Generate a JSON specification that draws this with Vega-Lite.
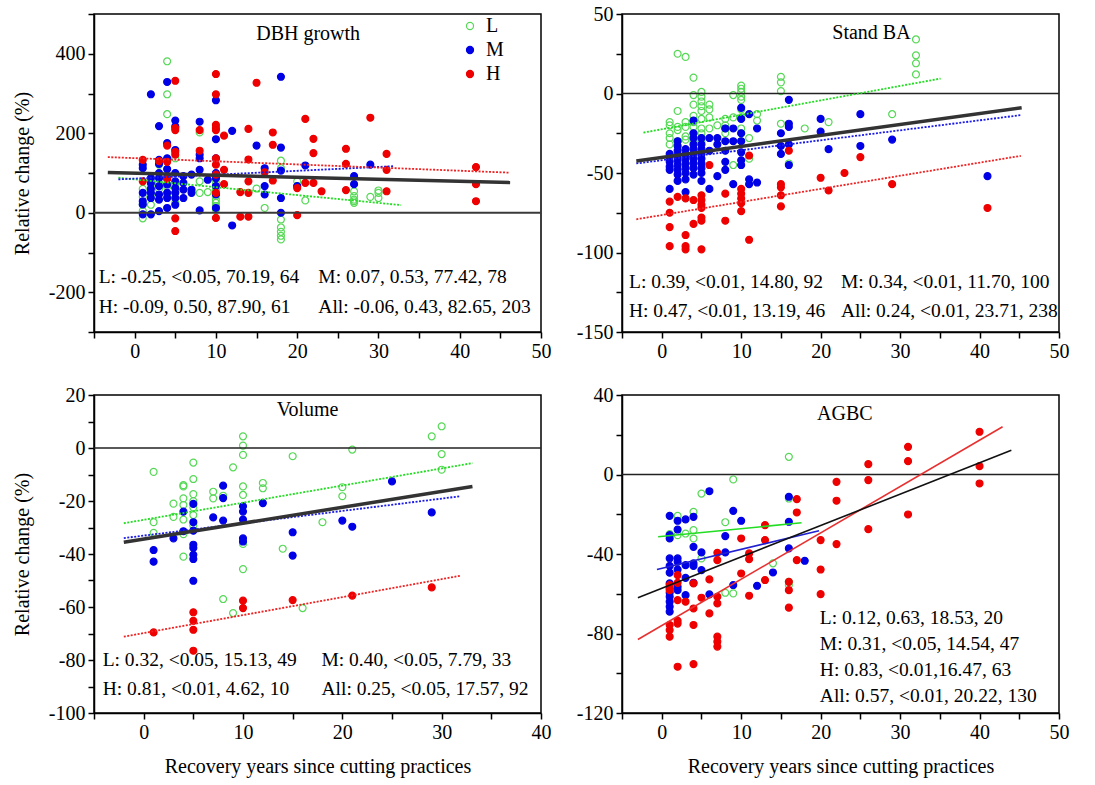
{
"$schema": "https://vega.github.io/schema/vega-lite/v6.json",
"background": "white",
"padding": {"left": 11, "top": 3, "right": 5, "bottom": 5},
"config": {
  "font": "Liberation Serif",
  "view": {"stroke": "black", "strokeWidth": 1.5},
  "axis": {"domainColor": "black", "domainWidth": 1.5, "tickColor": "black", "tickWidth": 1.5, "tickSize": 6, "labelFontSize": 20, "labelColor": "black", "labelFont": "Liberation Serif", "titleFont": "Liberation Serif", "titleFontSize": 20, "titleColor": "black", "titleFontWeight": "normal", "grid": false, "labelFlush": false, "labelOverlap": false, "labelPadding": 3},
  "axisY": {"titlePadding": 16},
  "axisX": {"titlePadding": 14},
  "text": {"font": "Liberation Serif", "color": "black"}
},
"datasets": {
"D": [
{"g":"L","x":1,"y":-14},{"g":"L","x":1,"y":5},{"g":"L","x":1,"y":20},{"g":"L","x":1,"y":40},{"g":"L","x":1,"y":60},
{"g":"L","x":2,"y":20},{"g":"L","x":2,"y":45},{"g":"L","x":2,"y":70},
{"g":"L","x":3,"y":60},{"g":"L","x":3,"y":75},{"g":"L","x":3,"y":121},
{"g":"L","x":4,"y":381},{"g":"L","x":4,"y":298},{"g":"L","x":4,"y":248},{"g":"L","x":4,"y":42},{"g":"L","x":4,"y":65},{"g":"L","x":4,"y":90},
{"g":"L","x":5,"y":137},{"g":"L","x":5,"y":25},{"g":"L","x":5,"y":50},{"g":"L","x":5,"y":70},
{"g":"L","x":8,"y":202},{"g":"L","x":8,"y":79},{"g":"L","x":8,"y":50},{"g":"L","x":9,"y":52},
{"g":"L","x":10,"y":8},{"g":"L","x":10,"y":17},{"g":"L","x":10,"y":25},{"g":"L","x":10,"y":33},{"g":"L","x":10,"y":42},{"g":"L","x":10,"y":50},{"g":"L","x":10,"y":58},{"g":"L","x":10,"y":67},{"g":"L","x":10,"y":75},{"g":"L","x":10,"y":85},{"g":"L","x":10,"y":96},
{"g":"L","x":15,"y":61},{"g":"L","x":16,"y":12},
{"g":"L","x":18,"y":131},{"g":"L","x":18,"y":112},{"g":"L","x":18,"y":-17},{"g":"L","x":18,"y":-37},{"g":"L","x":18,"y":-48},{"g":"L","x":18,"y":-58},{"g":"L","x":18,"y":-67},
{"g":"L","x":20,"y":79},{"g":"L","x":20,"y":67},{"g":"L","x":21,"y":31},
{"g":"L","x":27,"y":54},{"g":"L","x":27,"y":42},{"g":"L","x":27,"y":33},{"g":"L","x":27,"y":29},{"g":"L","x":27,"y":25},
{"g":"L","x":29,"y":40},{"g":"L","x":30,"y":56},{"g":"L","x":30,"y":50},{"g":"L","x":30,"y":37},
{"g":"M","x":1,"y":121},{"g":"M","x":1,"y":112},{"g":"M","x":1,"y":50},{"g":"M","x":1,"y":29},{"g":"M","x":1,"y":21},{"g":"M","x":1,"y":-4},
{"g":"M","x":2,"y":298},{"g":"M","x":2,"y":87},{"g":"M","x":2,"y":75},{"g":"M","x":2,"y":60},{"g":"M","x":2,"y":50},{"g":"M","x":2,"y":37},{"g":"M","x":2,"y":-4},
{"g":"M","x":3,"y":218},{"g":"M","x":3,"y":133},{"g":"M","x":3,"y":123},{"g":"M","x":3,"y":100},{"g":"M","x":3,"y":87},{"g":"M","x":3,"y":67},{"g":"M","x":3,"y":46},{"g":"M","x":3,"y":33},{"g":"M","x":3,"y":4},
{"g":"M","x":4,"y":329},{"g":"M","x":4,"y":175},{"g":"M","x":4,"y":137},{"g":"M","x":4,"y":110},{"g":"M","x":4,"y":87},{"g":"M","x":4,"y":71},{"g":"M","x":4,"y":50},{"g":"M","x":4,"y":37},{"g":"M","x":4,"y":12},
{"g":"M","x":5,"y":232},{"g":"M","x":5,"y":217},{"g":"M","x":5,"y":158},{"g":"M","x":5,"y":100},{"g":"M","x":5,"y":79},{"g":"M","x":5,"y":62},{"g":"M","x":5,"y":50},{"g":"M","x":5,"y":37},{"g":"M","x":5,"y":20},
{"g":"M","x":6,"y":92},{"g":"M","x":6,"y":75},{"g":"M","x":6,"y":58},{"g":"M","x":6,"y":37},
{"g":"M","x":7,"y":96},{"g":"M","x":7,"y":58},{"g":"M","x":7,"y":50},
{"g":"M","x":8,"y":229},{"g":"M","x":8,"y":146},{"g":"M","x":8,"y":137},{"g":"M","x":8,"y":108},{"g":"M","x":8,"y":6},
{"g":"M","x":9,"y":83},
{"g":"M","x":10,"y":283},{"g":"M","x":10,"y":185},{"g":"M","x":10,"y":137},{"g":"M","x":10,"y":100},{"g":"M","x":10,"y":87},{"g":"M","x":10,"y":67},{"g":"M","x":10,"y":46},{"g":"M","x":10,"y":12},
{"g":"M","x":12,"y":206},{"g":"M","x":12,"y":-32},{"g":"M","x":15,"y":169},
{"g":"M","x":16,"y":112},{"g":"M","x":16,"y":67},{"g":"M","x":16,"y":46},
{"g":"M","x":18,"y":342},{"g":"M","x":18,"y":164},{"g":"M","x":18,"y":106},{"g":"M","x":18,"y":37},{"g":"M","x":18,"y":0},
{"g":"M","x":20,"y":67},{"g":"M","x":21,"y":119},{"g":"M","x":27,"y":92},{"g":"M","x":27,"y":72},{"g":"M","x":29,"y":121},
{"g":"H","x":1,"y":133},{"g":"H","x":1,"y":79},{"g":"H","x":3,"y":130},
{"g":"H","x":4,"y":169},{"g":"H","x":4,"y":128},{"g":"H","x":4,"y":85},
{"g":"H","x":5,"y":332},{"g":"H","x":5,"y":213},{"g":"H","x":5,"y":208},{"g":"H","x":5,"y":153},{"g":"H","x":5,"y":146},{"g":"H","x":5,"y":-14},{"g":"H","x":5,"y":-46},
{"g":"H","x":8,"y":208},{"g":"H","x":8,"y":156},
{"g":"H","x":10,"y":349},{"g":"H","x":10,"y":298},{"g":"H","x":10,"y":221},{"g":"H","x":10,"y":213},{"g":"H","x":10,"y":208},{"g":"H","x":10,"y":137},{"g":"H","x":10,"y":121},{"g":"H","x":10,"y":96},{"g":"H","x":10,"y":50},{"g":"H","x":10,"y":-13},
{"g":"H","x":11,"y":194},{"g":"H","x":11,"y":108},{"g":"H","x":11,"y":72},
{"g":"H","x":13,"y":52},{"g":"H","x":13,"y":-10},
{"g":"H","x":14,"y":211},{"g":"H","x":14,"y":134},{"g":"H","x":14,"y":79},{"g":"H","x":14,"y":50},{"g":"H","x":14,"y":-10},
{"g":"H","x":15,"y":327},{"g":"H","x":16,"y":102},
{"g":"H","x":17,"y":202},{"g":"H","x":17,"y":171},{"g":"H","x":17,"y":81},
{"g":"H","x":20,"y":62},{"g":"H","x":20,"y":-6},
{"g":"H","x":21,"y":236},{"g":"H","x":21,"y":75},
{"g":"H","x":22,"y":186},{"g":"H","x":22,"y":150},{"g":"H","x":22,"y":75},
{"g":"H","x":23,"y":54},
{"g":"H","x":26,"y":161},{"g":"H","x":26,"y":123},{"g":"H","x":26,"y":57},
{"g":"H","x":29,"y":239},
{"g":"H","x":31,"y":148},{"g":"H","x":31,"y":108},{"g":"H","x":31,"y":54},
{"g":"H","x":42,"y":115},{"g":"H","x":42,"y":72},{"g":"H","x":42,"y":29}
],
"B": [
{"g":"L","x":1,"y":-18},{"g":"L","x":1,"y":-25},{"g":"L","x":1,"y":-28},{"g":"L","x":1,"y":-32},{"g":"L","x":1,"y":-20},
{"g":"L","x":2,"y":25},{"g":"L","x":2,"y":-11},{"g":"L","x":2,"y":-21},{"g":"L","x":2,"y":-23},{"g":"L","x":2,"y":-30},
{"g":"L","x":3,"y":23},{"g":"L","x":3,"y":-18},{"g":"L","x":3,"y":-21},{"g":"L","x":3,"y":-27},{"g":"L","x":3,"y":-29},
{"g":"L","x":4,"y":10},{"g":"L","x":4,"y":-1},{"g":"L","x":4,"y":-7},{"g":"L","x":4,"y":-14},{"g":"L","x":4,"y":-18},{"g":"L","x":4,"y":-21},{"g":"L","x":4,"y":-25},{"g":"L","x":4,"y":-30},
{"g":"L","x":5,"y":1},{"g":"L","x":5,"y":-2},{"g":"L","x":5,"y":-5},{"g":"L","x":5,"y":-8},{"g":"L","x":5,"y":-11},{"g":"L","x":5,"y":-16},{"g":"L","x":5,"y":-22},{"g":"L","x":5,"y":-25},{"g":"L","x":5,"y":-28},{"g":"L","x":5,"y":-30},
{"g":"L","x":6,"y":-7},{"g":"L","x":6,"y":-10},{"g":"L","x":6,"y":-15},{"g":"L","x":6,"y":-22},
{"g":"L","x":7,"y":-20},
{"g":"L","x":8,"y":-16},{"g":"L","x":8,"y":-20},{"g":"L","x":8,"y":-22},{"g":"L","x":8,"y":-25},
{"g":"L","x":9,"y":-1},{"g":"L","x":9,"y":-15},{"g":"L","x":9,"y":-45},
{"g":"L","x":10,"y":5},{"g":"L","x":10,"y":3},{"g":"L","x":10,"y":1},{"g":"L","x":10,"y":-2},{"g":"L","x":10,"y":-4},{"g":"L","x":10,"y":-10},{"g":"L","x":10,"y":-15},{"g":"L","x":10,"y":-22},{"g":"L","x":10,"y":-25},{"g":"L","x":10,"y":-30},
{"g":"L","x":11,"y":-28},{"g":"L","x":11,"y":-41},
{"g":"L","x":12,"y":-13},{"g":"L","x":12,"y":-17},
{"g":"L","x":15,"y":10.5},{"g":"L","x":15,"y":7},{"g":"L","x":15,"y":1.5},{"g":"L","x":15,"y":-19},
{"g":"L","x":16,"y":-44},{"g":"L","x":18,"y":-22},{"g":"L","x":21,"y":-18},{"g":"L","x":29,"y":-13},
{"g":"L","x":32,"y":34},{"g":"L","x":32,"y":24},{"g":"L","x":32,"y":19},{"g":"L","x":32,"y":12},
{"g":"M","x":1,"y":-38},{"g":"M","x":1,"y":-40},{"g":"M","x":1,"y":-43},{"g":"M","x":1,"y":-46},{"g":"M","x":1,"y":-48},{"g":"M","x":1,"y":-60},
{"g":"M","x":2,"y":-30},{"g":"M","x":2,"y":-33},{"g":"M","x":2,"y":-36},{"g":"M","x":2,"y":-39},{"g":"M","x":2,"y":-42},{"g":"M","x":2,"y":-45},{"g":"M","x":2,"y":-48},{"g":"M","x":2,"y":-51},{"g":"M","x":2,"y":-55},
{"g":"M","x":3,"y":-35},{"g":"M","x":3,"y":-38},{"g":"M","x":3,"y":-41},{"g":"M","x":3,"y":-44},{"g":"M","x":3,"y":-47},{"g":"M","x":3,"y":-50},{"g":"M","x":3,"y":-54},{"g":"M","x":3,"y":-62},
{"g":"M","x":4,"y":-17},{"g":"M","x":4,"y":-25},{"g":"M","x":4,"y":-28},{"g":"M","x":4,"y":-32},{"g":"M","x":4,"y":-35},{"g":"M","x":4,"y":-38},{"g":"M","x":4,"y":-41},{"g":"M","x":4,"y":-44},{"g":"M","x":4,"y":-47},{"g":"M","x":4,"y":-51},
{"g":"M","x":5,"y":-28},{"g":"M","x":5,"y":-32},{"g":"M","x":5,"y":-35},{"g":"M","x":5,"y":-38},{"g":"M","x":5,"y":-41},{"g":"M","x":5,"y":-44},{"g":"M","x":5,"y":-47},{"g":"M","x":5,"y":-50},{"g":"M","x":5,"y":-55},
{"g":"M","x":6,"y":-28},{"g":"M","x":6,"y":-36},{"g":"M","x":6,"y":-60},
{"g":"M","x":7,"y":-28},{"g":"M","x":7,"y":-32},{"g":"M","x":7,"y":-52},
{"g":"M","x":8,"y":-22},{"g":"M","x":8,"y":-30},{"g":"M","x":8,"y":-36},{"g":"M","x":8,"y":-43},{"g":"M","x":8,"y":-48},
{"g":"M","x":9,"y":-22},{"g":"M","x":9,"y":-30},{"g":"M","x":9,"y":-57},
{"g":"M","x":10,"y":-9},{"g":"M","x":10,"y":-16},{"g":"M","x":10,"y":-25},{"g":"M","x":10,"y":-30},{"g":"M","x":10,"y":-37},{"g":"M","x":10,"y":-42},{"g":"M","x":10,"y":-45},
{"g":"M","x":11,"y":-13},{"g":"M","x":11,"y":-54},{"g":"M","x":11,"y":-57},
{"g":"M","x":12,"y":-22},{"g":"M","x":12,"y":-56},
{"g":"M","x":15,"y":-25},{"g":"M","x":15,"y":-33},{"g":"M","x":15,"y":-38},
{"g":"M","x":16,"y":-4},{"g":"M","x":16,"y":-19},{"g":"M","x":16,"y":-21},{"g":"M","x":16,"y":-32},{"g":"M","x":16,"y":-45},
{"g":"M","x":20,"y":-16},{"g":"M","x":20,"y":-24},{"g":"M","x":21,"y":-35},
{"g":"M","x":25,"y":-13},{"g":"M","x":25,"y":-33},{"g":"M","x":29,"y":-29},{"g":"M","x":41,"y":-52},
{"g":"H","x":1,"y":-68},{"g":"H","x":1,"y":-75},{"g":"H","x":1,"y":-84},{"g":"H","x":1,"y":-96},
{"g":"H","x":2,"y":-65},
{"g":"H","x":3,"y":-66},{"g":"H","x":3,"y":-89},{"g":"H","x":3,"y":-96},{"g":"H","x":3,"y":-98},
{"g":"H","x":4,"y":-67},{"g":"H","x":4,"y":-82},
{"g":"H","x":5,"y":-64},{"g":"H","x":5,"y":-67},{"g":"H","x":5,"y":-70},{"g":"H","x":5,"y":-72},{"g":"H","x":5,"y":-78},{"g":"H","x":5,"y":-80},{"g":"H","x":5,"y":-98},
{"g":"H","x":6,"y":-45},
{"g":"H","x":8,"y":-63},{"g":"H","x":8,"y":-80},
{"g":"H","x":10,"y":-60},{"g":"H","x":10,"y":-63},{"g":"H","x":10,"y":-66},{"g":"H","x":10,"y":-69},{"g":"H","x":10,"y":-74},
{"g":"H","x":11,"y":-39},{"g":"H","x":11,"y":-92},
{"g":"H","x":15,"y":-57},{"g":"H","x":15,"y":-59},{"g":"H","x":15,"y":-64},{"g":"H","x":15,"y":-71},
{"g":"H","x":16,"y":-36},{"g":"H","x":20,"y":-53},{"g":"H","x":21,"y":-61},{"g":"H","x":23,"y":-50},{"g":"H","x":25,"y":-40},{"g":"H","x":29,"y":-57},{"g":"H","x":41,"y":-72}
],
"V": [
{"g":"L","x":1,"y":-9},{"g":"L","x":1,"y":-28},{"g":"L","x":1,"y":-32},
{"g":"L","x":3,"y":-21},{"g":"L","x":3,"y":-26},
{"g":"L","x":4,"y":-14},{"g":"L","x":4,"y":-14.5},{"g":"L","x":4,"y":-19},{"g":"L","x":4,"y":-21.5},{"g":"L","x":4,"y":-27},{"g":"L","x":4,"y":-32.5},{"g":"L","x":4,"y":-41},
{"g":"L","x":5,"y":-5.5},{"g":"L","x":5,"y":-11.7},{"g":"L","x":5,"y":-17.4},{"g":"L","x":5,"y":-20},{"g":"L","x":5,"y":-22.4},{"g":"L","x":5,"y":-25.3},{"g":"L","x":5,"y":-29.3},
{"g":"L","x":7,"y":-16.5},{"g":"L","x":7,"y":-19},
{"g":"L","x":8,"y":-18},{"g":"L","x":8,"y":-57},
{"g":"L","x":9,"y":-7.3},{"g":"L","x":9,"y":-62.3},
{"g":"L","x":10,"y":4.4},{"g":"L","x":10,"y":0.9},{"g":"L","x":10,"y":-2.6},{"g":"L","x":10,"y":-14.5},{"g":"L","x":10,"y":-17.7},{"g":"L","x":10,"y":-36.2},{"g":"L","x":10,"y":-45.7},
{"g":"L","x":12,"y":-13.2},{"g":"L","x":12,"y":-15.2},
{"g":"L","x":14,"y":-38},{"g":"L","x":15,"y":-3.1},{"g":"L","x":16,"y":-60.4},{"g":"L","x":18,"y":-28},
{"g":"L","x":20,"y":-14.8},{"g":"L","x":20,"y":-18.2},{"g":"L","x":21,"y":-0.6},
{"g":"L","x":29,"y":4.4},{"g":"L","x":30,"y":8.2},{"g":"L","x":30,"y":-2.3},{"g":"L","x":30,"y":-8.2},
{"g":"M","x":1,"y":-38.5},{"g":"M","x":1,"y":-42.9},{"g":"M","x":3,"y":-34.1},
{"g":"M","x":4,"y":-24},{"g":"M","x":4,"y":-31.4},
{"g":"M","x":5,"y":-21.1},{"g":"M","x":5,"y":-28},{"g":"M","x":5,"y":-31.2},{"g":"M","x":5,"y":-36.5},{"g":"M","x":5,"y":-37.7},{"g":"M","x":5,"y":-40.3},{"g":"M","x":5,"y":-41.9},{"g":"M","x":5,"y":-50.1},
{"g":"M","x":7,"y":-26.2},
{"g":"M","x":8,"y":-14.2},{"g":"M","x":8,"y":-18.9},{"g":"M","x":8,"y":-27.4},
{"g":"M","x":10,"y":-22},{"g":"M","x":10,"y":-24},{"g":"M","x":10,"y":-27},{"g":"M","x":10,"y":-34.1},{"g":"M","x":10,"y":-35.3},
{"g":"M","x":12,"y":-20.8},{"g":"M","x":15,"y":-31.8},{"g":"M","x":15,"y":-40.6},
{"g":"M","x":20,"y":-27.4},{"g":"M","x":21,"y":-29.7},{"g":"M","x":25,"y":-12.6},{"g":"M","x":29,"y":-24.3},
{"g":"H","x":1,"y":-69.6},
{"g":"H","x":5,"y":-62},{"g":"H","x":5,"y":-65.2},{"g":"H","x":5,"y":-68.6},{"g":"H","x":5,"y":-76.5},
{"g":"H","x":10,"y":-57.6},{"g":"H","x":10,"y":-60.4},
{"g":"H","x":15,"y":-57.4},{"g":"H","x":21,"y":-55.7},{"g":"H","x":29,"y":-52.6}
],
"A": [
{"g":"L","x":1,"y":-30},
{"g":"L","x":2,"y":-20.8},{"g":"L","x":2,"y":-30.5},{"g":"L","x":3,"y":-29.7},
{"g":"L","x":4,"y":-18.8},{"g":"L","x":4,"y":-28},{"g":"L","x":4,"y":-32.2},
{"g":"L","x":5,"y":-9.6},{"g":"L","x":5,"y":-42.2},
{"g":"L","x":8,"y":-24},{"g":"L","x":8,"y":-59.5},
{"g":"L","x":9,"y":-2.5},{"g":"L","x":9,"y":-59.8},
{"g":"L","x":14,"y":-44.7},
{"g":"L","x":16,"y":8.9},{"g":"L","x":16,"y":-12.1},{"g":"L","x":16,"y":-54},{"g":"L","x":16,"y":-55.6},
{"g":"M","x":1,"y":-20.8},{"g":"M","x":1,"y":-30.5},{"g":"M","x":1,"y":-32.2},{"g":"M","x":1,"y":-42.2},{"g":"M","x":1,"y":-46},{"g":"M","x":1,"y":-49.4},{"g":"M","x":1,"y":-54.8},{"g":"M","x":1,"y":-57.3},{"g":"M","x":1,"y":-59.5},{"g":"M","x":1,"y":-61.5},{"g":"M","x":1,"y":-64},{"g":"M","x":1,"y":-66.5},{"g":"M","x":1,"y":-69},
{"g":"M","x":2,"y":-23.3},{"g":"M","x":2,"y":-27.7},{"g":"M","x":2,"y":-42.2},{"g":"M","x":2,"y":-43.9},{"g":"M","x":2,"y":-47.8},{"g":"M","x":2,"y":-56.5},{"g":"M","x":2,"y":-58.2},
{"g":"M","x":3,"y":-22.6},{"g":"M","x":3,"y":-45.6},{"g":"M","x":3,"y":-52},{"g":"M","x":3,"y":-60.7},
{"g":"M","x":4,"y":-21.3},{"g":"M","x":4,"y":-36.4},{"g":"M","x":4,"y":-44.7},{"g":"M","x":4,"y":-46},{"g":"M","x":4,"y":-54.5},
{"g":"M","x":5,"y":-39.2},{"g":"M","x":5,"y":-48.1},
{"g":"M","x":6,"y":-8.4},{"g":"M","x":6,"y":-60.3},
{"g":"M","x":8,"y":-31},{"g":"M","x":8,"y":-39.2},
{"g":"M","x":9,"y":-18.3},{"g":"M","x":9,"y":-55.6},
{"g":"M","x":10,"y":-23.3},{"g":"M","x":12,"y":-56},{"g":"M","x":14,"y":-49.3},
{"g":"M","x":16,"y":-11.2},{"g":"M","x":16,"y":-23.8},{"g":"M","x":16,"y":-37.2},
{"g":"M","x":18,"y":-43.4},
{"g":"H","x":1,"y":-55.6},{"g":"H","x":1,"y":-58.2},{"g":"H","x":1,"y":-75.7},{"g":"H","x":1,"y":-78.3},{"g":"H","x":1,"y":-81.6},
{"g":"H","x":2,"y":-50.6},{"g":"H","x":2,"y":-54.5},{"g":"H","x":2,"y":-63.2},{"g":"H","x":2,"y":-73.6},{"g":"H","x":2,"y":-75},{"g":"H","x":2,"y":-96.7},
{"g":"H","x":3,"y":-64},
{"g":"H","x":4,"y":-54.8},{"g":"H","x":4,"y":-67.4},{"g":"H","x":4,"y":-75.7},{"g":"H","x":4,"y":-95.4},
{"g":"H","x":5,"y":-62},
{"g":"H","x":6,"y":-52.8},{"g":"H","x":6,"y":-69.9},
{"g":"H","x":7,"y":-39.4},{"g":"H","x":7,"y":-43.1},{"g":"H","x":7,"y":-61.5},{"g":"H","x":7,"y":-64.9},{"g":"H","x":7,"y":-81.6},{"g":"H","x":7,"y":-84.1},{"g":"H","x":7,"y":-86.6},
{"g":"H","x":10,"y":-32.2},{"g":"H","x":10,"y":-49.8},
{"g":"H","x":11,"y":-39.7},{"g":"H","x":11,"y":-42.6},{"g":"H","x":11,"y":-61},
{"g":"H","x":13,"y":-25.5},{"g":"H","x":13,"y":-33},{"g":"H","x":13,"y":-53.1},
{"g":"H","x":16,"y":-54},{"g":"H","x":16,"y":-58.2},{"g":"H","x":16,"y":-67},
{"g":"H","x":17,"y":-12.4},{"g":"H","x":17,"y":-19.1},{"g":"H","x":17,"y":-43.1},
{"g":"H","x":20,"y":-33},{"g":"H","x":20,"y":-47.8},{"g":"H","x":20,"y":-60.2},
{"g":"H","x":22,"y":-3.7},{"g":"H","x":22,"y":-13.2},{"g":"H","x":22,"y":-35},
{"g":"H","x":26,"y":5.2},{"g":"H","x":26,"y":-2.8},{"g":"H","x":26,"y":-27.5},
{"g":"H","x":31,"y":13.9},{"g":"H","x":31,"y":6.7},{"g":"H","x":31,"y":-20.1},
{"g":"H","x":40,"y":21.5},{"g":"H","x":40,"y":4.2},{"g":"H","x":40,"y":-4.5}
],
"lines": [
{"p":"D","g":"L","x":-2,"y":88},{"p":"D","g":"L","x":32.8,"y":19.2},
{"p":"D","g":"M","x":-2,"y":84},{"p":"D","g":"M","x":31.8,"y":117},
{"p":"D","g":"H","x":-3.3,"y":140},{"p":"D","g":"H","x":46,"y":101},
{"p":"D","g":"All","x":-3.3,"y":101},{"p":"D","g":"All","x":46.2,"y":76},
{"p":"B","g":"L","x":-2.3,"y":-24.6},{"p":"B","g":"L","x":35.1,"y":9.4},
{"p":"B","g":"M","x":-3.2,"y":-44},{"p":"B","g":"M","x":45.2,"y":-13.6},
{"p":"B","g":"H","x":-3.2,"y":-79.1},{"p":"B","g":"H","x":45.2,"y":-39.2},
{"p":"B","g":"All","x":-3.2,"y":-42.4},{"p":"B","g":"All","x":45.3,"y":-9},
{"p":"V","g":"L","x":-2,"y":-28.4},{"p":"V","g":"L","x":33.1,"y":-5.7},
{"p":"V","g":"M","x":-2,"y":-34},{"p":"V","g":"M","x":31.9,"y":-18.2},
{"p":"V","g":"H","x":-2,"y":-71.2},{"p":"V","g":"H","x":31.9,"y":-48.2},
{"p":"V","g":"All","x":-2,"y":-35.6},{"p":"V","g":"All","x":33.1,"y":-14.5},
{"p":"A","g":"L","x":-0.45,"y":-31.3},{"p":"A","g":"L","x":17.6,"y":-24.3},
{"p":"A","g":"M","x":-0.6,"y":-47.8},{"p":"A","g":"M","x":19.8,"y":-28.3},
{"p":"A","g":"H","x":-3,"y":-83},{"p":"A","g":"H","x":42.9,"y":24},
{"p":"A","g":"All","x":-3,"y":-62},{"p":"A","g":"All","x":44,"y":12.2}
]
},
"columns": 2,
"spacing": {"row": 63, "column": 81},
"bounds": "flush",
"resolve": {"scale": {"x": "independent", "y": "independent", "fill": "independent", "stroke": "independent", "color": "independent"}, "legend": {"fill": "independent", "stroke": "independent", "color": "independent"}},
"concat": [
{
 "width": 447, "height": 318,
 "layer": [
  {"data": {"name": "D"}, "mark": {"type": "circle", "size": 48, "opacity": 1, "strokeWidth": 1.2},
   "encoding": {
    "x": {"field": "x", "type": "quantitative", "scale": {"domain": [-5, 50], "nice": false, "zero": false}, "axis": {"values": [-5,0,5,10,15,20,25,30,35,40,45,50], "labelExpr": "datum.value % 10 === 0 ? '' + datum.value : ''", "title": null}},
    "y": {"field": "y", "type": "quantitative", "scale": {"domain": [-300, 500], "nice": false, "zero": false}, "axis": {"values": [-300,-200,-100,0,100,200,300,400,500], "labelExpr": "datum.value % 200 === 0 ? '' + datum.value : ''", "title": "Relative change (%)"}},
    "fill": {"field": "g", "type": "nominal", "scale": {"domain": ["L","M","H"], "range": ["transparent","#0000e6","#ee0000"]}, "legend": {"title": null, "orient": "none", "legendX": 366, "legendY": 2, "labelFontSize": 20, "labelFont": "Liberation Serif", "labelColor": "black", "symbolSize": 50, "symbolStrokeWidth": 1.2, "rowPadding": 4, "labelOffset": 6, "symbolType": "circle", "padding": 0}},
    "stroke": {"field": "g", "type": "nominal", "scale": {"domain": ["L","M","H"], "range": ["#55d855","#0000e6","#ee0000"]}, "legend": {"title": null, "orient": "none", "legendX": 366, "legendY": 2, "labelFontSize": 20, "labelFont": "Liberation Serif", "labelColor": "black", "symbolSize": 50, "symbolStrokeWidth": 1.2, "rowPadding": 4, "labelOffset": 6, "symbolType": "circle", "padding": 0}}
   }},
  {"data": {"values": [{}]}, "mark": {"type": "rule", "color": "#3a3a3a", "strokeWidth": 2}, "encoding": {"y": {"datum": 0, "type": "quantitative", "axis": {"values": [-300,-200,-100,0,100,200,300,400,500], "labelExpr": "datum.value % 200 === 0 ? '' + datum.value : ''", "title": "Relative change (%)"}}}},
  {"data": {"name": "lines"}, "transform": [{"filter": "datum.p === 'D' && datum.g !== 'All'"}], "mark": {"type": "line", "strokeDash": [2, 1.5], "strokeWidth": 1.8},
   "encoding": {"x": {"field": "x", "type": "quantitative", "axis": {"values": [-5,0,5,10,15,20,25,30,35,40,45,50], "labelExpr": "datum.value % 10 === 0 ? '' + datum.value : ''", "title": null}}, "y": {"field": "y", "type": "quantitative", "axis": {"values": [-300,-200,-100,0,100,200,300,400,500], "labelExpr": "datum.value % 200 === 0 ? '' + datum.value : ''", "title": "Relative change (%)"}}, "color": {"field": "g", "type": "nominal", "scale": {"domain": ["L","M","H"], "range": ["#22dd22","#1a1ae6","#ee2222"]}, "legend": null}}},
  {"data": {"name": "lines"}, "transform": [{"filter": "datum.p === 'D' && datum.g === 'All'"}], "mark": {"type": "line", "color": "#333333", "strokeWidth": 3.5},
   "encoding": {"x": {"field": "x", "type": "quantitative", "axis": {"values": [-5,0,5,10,15,20,25,30,35,40,45,50], "labelExpr": "datum.value % 10 === 0 ? '' + datum.value : ''", "title": null}}, "y": {"field": "y", "type": "quantitative", "axis": {"values": [-300,-200,-100,0,100,200,300,400,500], "labelExpr": "datum.value % 200 === 0 ? '' + datum.value : ''", "title": "Relative change (%)"}}}},
  {"data": {"values": [{}]}, "mark": {"type": "text", "text": "DBH growth", "fontSize": 20, "align": "center", "baseline": "alphabetic"}, "encoding": {"x": {"datum": 21.35, "type": "quantitative", "axis": {"values": [-5,0,5,10,15,20,25,30,35,40,45,50], "labelExpr": "datum.value % 10 === 0 ? '' + datum.value : ''", "title": null}}, "y": {"datum": 434, "type": "quantitative", "axis": {"values": [-300,-200,-100,0,100,200,300,400,500], "labelExpr": "datum.value % 200 === 0 ? '' + datum.value : ''", "title": "Relative change (%)"}}}},
  {"data": {"values": [{}]}, "mark": {"type": "text", "text": ["L: -0.25, <0.05, 70.19, 64", "H: -0.09, 0.50, 87.90, 61"], "lineHeight": 30, "fontSize": 19.5, "align": "left", "baseline": "top"}, "encoding": {"x": {"datum": -4.43, "type": "quantitative", "axis": {"values": [-5,0,5,10,15,20,25,30,35,40,45,50], "labelExpr": "datum.value % 10 === 0 ? '' + datum.value : ''", "title": null}}, "y": {"datum": -140, "type": "quantitative", "axis": {"values": [-300,-200,-100,0,100,200,300,400,500], "labelExpr": "datum.value % 200 === 0 ? '' + datum.value : ''", "title": "Relative change (%)"}}}},
  {"data": {"values": [{}]}, "mark": {"type": "text", "text": ["M: 0.07, 0.53, 77.42, 78", "All: -0.06, 0.43, 82.65, 203"], "lineHeight": 30, "fontSize": 19.5, "align": "left", "baseline": "top"}, "encoding": {"x": {"datum": 22.6, "type": "quantitative", "axis": {"values": [-5,0,5,10,15,20,25,30,35,40,45,50], "labelExpr": "datum.value % 10 === 0 ? '' + datum.value : ''", "title": null}}, "y": {"datum": -140, "type": "quantitative", "axis": {"values": [-300,-200,-100,0,100,200,300,400,500], "labelExpr": "datum.value % 200 === 0 ? '' + datum.value : ''", "title": "Relative change (%)"}}}}
 ]
},
{
 "width": 437, "height": 318,
 "layer": [
  {"data": {"name": "B"}, "mark": {"type": "circle", "size": 48, "opacity": 1, "strokeWidth": 1.2},
   "encoding": {
    "x": {"field": "x", "type": "quantitative", "scale": {"domain": [-5, 50], "nice": false, "zero": false}, "axis": {"values": [-5,0,5,10,15,20,25,30,35,40,45,50], "labelExpr": "datum.value % 10 === 0 ? '' + datum.value : ''", "title": null}},
    "y": {"field": "y", "type": "quantitative", "scale": {"domain": [-150, 50], "nice": false, "zero": false}, "axis": {"values": [-150,-125,-100,-75,-50,-25,0,25,50], "labelExpr": "datum.value % 50 === 0 ? '' + datum.value : ''", "title": null}},
    "fill": {"field": "g", "type": "nominal", "scale": {"domain": ["L","M","H"], "range": ["transparent","#0000e6","#ee0000"]}, "legend": null},
    "stroke": {"field": "g", "type": "nominal", "scale": {"domain": ["L","M","H"], "range": ["#55d855","#0000e6","#ee0000"]}, "legend": null}
   }},
  {"data": {"values": [{}]}, "mark": {"type": "rule", "color": "#222222", "strokeWidth": 1.3}, "encoding": {"y": {"datum": 0, "type": "quantitative", "axis": {"values": [-150,-125,-100,-75,-50,-25,0,25,50], "labelExpr": "datum.value % 50 === 0 ? '' + datum.value : ''", "title": null}}}},
  {"data": {"name": "lines"}, "transform": [{"filter": "datum.p === 'B' && datum.g !== 'All'"}], "mark": {"type": "line", "strokeDash": [2, 1.5], "strokeWidth": 1.8},
   "encoding": {"x": {"field": "x", "type": "quantitative", "axis": {"values": [-5,0,5,10,15,20,25,30,35,40,45,50], "labelExpr": "datum.value % 10 === 0 ? '' + datum.value : ''", "title": null}}, "y": {"field": "y", "type": "quantitative", "axis": {"values": [-150,-125,-100,-75,-50,-25,0,25,50], "labelExpr": "datum.value % 50 === 0 ? '' + datum.value : ''", "title": null}}, "color": {"field": "g", "type": "nominal", "scale": {"domain": ["L","M","H"], "range": ["#22dd22","#1a1ae6","#ee2222"]}, "legend": null}}},
  {"data": {"name": "lines"}, "transform": [{"filter": "datum.p === 'B' && datum.g === 'All'"}], "mark": {"type": "line", "color": "#333333", "strokeWidth": 3.5},
   "encoding": {"x": {"field": "x", "type": "quantitative", "axis": {"values": [-5,0,5,10,15,20,25,30,35,40,45,50], "labelExpr": "datum.value % 10 === 0 ? '' + datum.value : ''", "title": null}}, "y": {"field": "y", "type": "quantitative", "axis": {"values": [-150,-125,-100,-75,-50,-25,0,25,50], "labelExpr": "datum.value % 50 === 0 ? '' + datum.value : ''", "title": null}}}},
  {"data": {"values": [{}]}, "mark": {"type": "text", "text": "Stand BA", "fontSize": 20, "align": "center", "baseline": "alphabetic"}, "encoding": {"x": {"datum": 26.4, "type": "quantitative", "axis": {"values": [-5,0,5,10,15,20,25,30,35,40,45,50], "labelExpr": "datum.value % 10 === 0 ? '' + datum.value : ''", "title": null}}, "y": {"datum": 34.3, "type": "quantitative", "axis": {"values": [-150,-125,-100,-75,-50,-25,0,25,50], "labelExpr": "datum.value % 50 === 0 ? '' + datum.value : ''", "title": null}}}},
  {"data": {"values": [{}]}, "mark": {"type": "text", "text": ["L: 0.39, <0.01, 14.80, 92", "H: 0.47, <0.01, 13.19, 46"], "lineHeight": 29, "fontSize": 19.5, "align": "left", "baseline": "top"}, "encoding": {"x": {"datum": -4.12, "type": "quantitative", "axis": {"values": [-5,0,5,10,15,20,25,30,35,40,45,50], "labelExpr": "datum.value % 10 === 0 ? '' + datum.value : ''", "title": null}}, "y": {"datum": -112.7, "type": "quantitative", "axis": {"values": [-150,-125,-100,-75,-50,-25,0,25,50], "labelExpr": "datum.value % 50 === 0 ? '' + datum.value : ''", "title": null}}}},
  {"data": {"values": [{}]}, "mark": {"type": "text", "text": ["M: 0.34, <0.01, 11.70, 100", "All: 0.24, <0.01, 23.71, 238"], "lineHeight": 29, "fontSize": 19.5, "align": "left", "baseline": "top"}, "encoding": {"x": {"datum": 22.55, "type": "quantitative", "axis": {"values": [-5,0,5,10,15,20,25,30,35,40,45,50], "labelExpr": "datum.value % 10 === 0 ? '' + datum.value : ''", "title": null}}, "y": {"datum": -112.7, "type": "quantitative", "axis": {"values": [-150,-125,-100,-75,-50,-25,0,25,50], "labelExpr": "datum.value % 50 === 0 ? '' + datum.value : ''", "title": null}}}}
 ]
},
{
 "width": 447, "height": 318,
 "layer": [
  {"data": {"name": "V"}, "mark": {"type": "circle", "size": 48, "opacity": 1, "strokeWidth": 1.2},
   "encoding": {
    "x": {"field": "x", "type": "quantitative", "scale": {"domain": [-5, 40], "nice": false, "zero": false}, "axis": {"values": [-5,0,5,10,15,20,25,30,35,40], "labelExpr": "datum.value % 10 === 0 ? '' + datum.value : ''", "title": "Recovery years since cutting practices"}},
    "y": {"field": "y", "type": "quantitative", "scale": {"domain": [-100, 20], "nice": false, "zero": false}, "axis": {"values": [-100,-90,-80,-70,-60,-50,-40,-30,-20,-10,0,10,20], "labelExpr": "datum.value % 20 === 0 ? '' + datum.value : ''", "title": "Relative change (%)"}},
    "fill": {"field": "g", "type": "nominal", "scale": {"domain": ["L","M","H"], "range": ["transparent","#0000e6","#ee0000"]}, "legend": null},
    "stroke": {"field": "g", "type": "nominal", "scale": {"domain": ["L","M","H"], "range": ["#55d855","#0000e6","#ee0000"]}, "legend": null}
   }},
  {"data": {"values": [{}]}, "mark": {"type": "rule", "color": "#222222", "strokeWidth": 1.3}, "encoding": {"y": {"datum": 0, "type": "quantitative", "axis": {"values": [-100,-90,-80,-70,-60,-50,-40,-30,-20,-10,0,10,20], "labelExpr": "datum.value % 20 === 0 ? '' + datum.value : ''", "title": "Relative change (%)"}}}},
  {"data": {"name": "lines"}, "transform": [{"filter": "datum.p === 'V' && datum.g !== 'All'"}], "mark": {"type": "line", "strokeDash": [2, 1.5], "strokeWidth": 1.8},
   "encoding": {"x": {"field": "x", "type": "quantitative", "axis": {"values": [-5,0,5,10,15,20,25,30,35,40], "labelExpr": "datum.value % 10 === 0 ? '' + datum.value : ''", "title": "Recovery years since cutting practices"}}, "y": {"field": "y", "type": "quantitative", "axis": {"values": [-100,-90,-80,-70,-60,-50,-40,-30,-20,-10,0,10,20], "labelExpr": "datum.value % 20 === 0 ? '' + datum.value : ''", "title": "Relative change (%)"}}, "color": {"field": "g", "type": "nominal", "scale": {"domain": ["L","M","H"], "range": ["#22dd22","#1a1ae6","#ee2222"]}, "legend": null}}},
  {"data": {"name": "lines"}, "transform": [{"filter": "datum.p === 'V' && datum.g === 'All'"}], "mark": {"type": "line", "color": "#333333", "strokeWidth": 3.5},
   "encoding": {"x": {"field": "x", "type": "quantitative", "axis": {"values": [-5,0,5,10,15,20,25,30,35,40], "labelExpr": "datum.value % 10 === 0 ? '' + datum.value : ''", "title": "Recovery years since cutting practices"}}, "y": {"field": "y", "type": "quantitative", "axis": {"values": [-100,-90,-80,-70,-60,-50,-40,-30,-20,-10,0,10,20], "labelExpr": "datum.value % 20 === 0 ? '' + datum.value : ''", "title": "Relative change (%)"}}}},
  {"data": {"values": [{}]}, "mark": {"type": "text", "text": "Volume", "fontSize": 20, "align": "center", "baseline": "alphabetic"}, "encoding": {"x": {"datum": 16.5, "type": "quantitative", "axis": {"values": [-5,0,5,10,15,20,25,30,35,40], "labelExpr": "datum.value % 10 === 0 ? '' + datum.value : ''", "title": "Recovery years since cutting practices"}}, "y": {"datum": 12.2, "type": "quantitative", "axis": {"values": [-100,-90,-80,-70,-60,-50,-40,-30,-20,-10,0,10,20], "labelExpr": "datum.value % 20 === 0 ? '' + datum.value : ''", "title": "Relative change (%)"}}}},
  {"data": {"values": [{}]}, "mark": {"type": "text", "text": ["L: 0.32, <0.05, 15.13, 49", "H: 0.81, <0.01, 4.62, 10"], "lineHeight": 29.4, "fontSize": 19.5, "align": "left", "baseline": "top"}, "encoding": {"x": {"datum": -4.13, "type": "quantitative", "axis": {"values": [-5,0,5,10,15,20,25,30,35,40], "labelExpr": "datum.value % 10 === 0 ? '' + datum.value : ''", "title": "Recovery years since cutting practices"}}, "y": {"datum": -76.6, "type": "quantitative", "axis": {"values": [-100,-90,-80,-70,-60,-50,-40,-30,-20,-10,0,10,20], "labelExpr": "datum.value % 20 === 0 ? '' + datum.value : ''", "title": "Relative change (%)"}}}},
  {"data": {"values": [{}]}, "mark": {"type": "text", "text": ["M: 0.40, <0.05, 7.79, 33", "All: 0.25, <0.05, 17.57, 92"], "lineHeight": 29.4, "fontSize": 19.5, "align": "left", "baseline": "top"}, "encoding": {"x": {"datum": 17.9, "type": "quantitative", "axis": {"values": [-5,0,5,10,15,20,25,30,35,40], "labelExpr": "datum.value % 10 === 0 ? '' + datum.value : ''", "title": "Recovery years since cutting practices"}}, "y": {"datum": -76.6, "type": "quantitative", "axis": {"values": [-100,-90,-80,-70,-60,-50,-40,-30,-20,-10,0,10,20], "labelExpr": "datum.value % 20 === 0 ? '' + datum.value : ''", "title": "Relative change (%)"}}}}
 ]
},
{
 "width": 437, "height": 318,
 "layer": [
  {"data": {"name": "A"}, "mark": {"type": "circle", "size": 48, "opacity": 1, "strokeWidth": 1.2},
   "encoding": {
    "x": {"field": "x", "type": "quantitative", "scale": {"domain": [-5, 50], "nice": false, "zero": false}, "axis": {"values": [-5,0,5,10,15,20,25,30,35,40,45,50], "labelExpr": "datum.value % 10 === 0 ? '' + datum.value : ''", "title": "Recovery years since cutting practices"}},
    "y": {"field": "y", "type": "quantitative", "scale": {"domain": [-120, 40], "nice": false, "zero": false}, "axis": {"values": [-120,-100,-80,-60,-40,-20,0,20,40], "labelExpr": "datum.value % 40 === 0 ? '' + datum.value : ''", "title": null}},
    "fill": {"field": "g", "type": "nominal", "scale": {"domain": ["L","M","H"], "range": ["transparent","#0000e6","#ee0000"]}, "legend": null},
    "stroke": {"field": "g", "type": "nominal", "scale": {"domain": ["L","M","H"], "range": ["#55d855","#0000e6","#ee0000"]}, "legend": null}
   }},
  {"data": {"values": [{}]}, "mark": {"type": "rule", "color": "#222222", "strokeWidth": 1.3}, "encoding": {"y": {"datum": 0, "type": "quantitative", "axis": {"values": [-120,-100,-80,-60,-40,-20,0,20,40], "labelExpr": "datum.value % 40 === 0 ? '' + datum.value : ''", "title": null}}}},
  {"data": {"name": "lines"}, "transform": [{"filter": "datum.p === 'A'"}], "mark": {"type": "line", "strokeWidth": 1.6},
   "encoding": {"x": {"field": "x", "type": "quantitative", "axis": {"values": [-5,0,5,10,15,20,25,30,35,40,45,50], "labelExpr": "datum.value % 10 === 0 ? '' + datum.value : ''", "title": "Recovery years since cutting practices"}}, "y": {"field": "y", "type": "quantitative", "axis": {"values": [-120,-100,-80,-60,-40,-20,0,20,40], "labelExpr": "datum.value % 40 === 0 ? '' + datum.value : ''", "title": null}}, "color": {"field": "g", "type": "nominal", "scale": {"domain": ["L","M","H","All"], "range": ["#22dd22","#2020d0","#e83030","#111111"]}, "legend": null}}},
  {"data": {"values": [{}]}, "mark": {"type": "text", "text": "AGBC", "fontSize": 20, "align": "center", "baseline": "alphabetic"}, "encoding": {"x": {"datum": 23.05, "type": "quantitative", "axis": {"values": [-5,0,5,10,15,20,25,30,35,40,45,50], "labelExpr": "datum.value % 10 === 0 ? '' + datum.value : ''", "title": "Recovery years since cutting practices"}}, "y": {"datum": 27.3, "type": "quantitative", "axis": {"values": [-120,-100,-80,-60,-40,-20,0,20,40], "labelExpr": "datum.value % 40 === 0 ? '' + datum.value : ''", "title": null}}}},
  {"data": {"values": [{}]}, "mark": {"type": "text", "text": ["L: 0.12, 0.63, 18.53, 20", "M: 0.31, <0.05, 14.54, 47", "H: 0.83, <0.01,16.47, 63", "All: 0.57, <0.01, 20.22, 130"], "lineHeight": 26.2, "fontSize": 19.5, "align": "left", "baseline": "top"}, "encoding": {"x": {"datum": 19.9, "type": "quantitative", "axis": {"values": [-5,0,5,10,15,20,25,30,35,40,45,50], "labelExpr": "datum.value % 10 === 0 ? '' + datum.value : ''", "title": "Recovery years since cutting practices"}}, "y": {"datum": -67.5, "type": "quantitative", "axis": {"values": [-120,-100,-80,-60,-40,-20,0,20,40], "labelExpr": "datum.value % 40 === 0 ? '' + datum.value : ''", "title": null}}}}
 ]
}
]
}
